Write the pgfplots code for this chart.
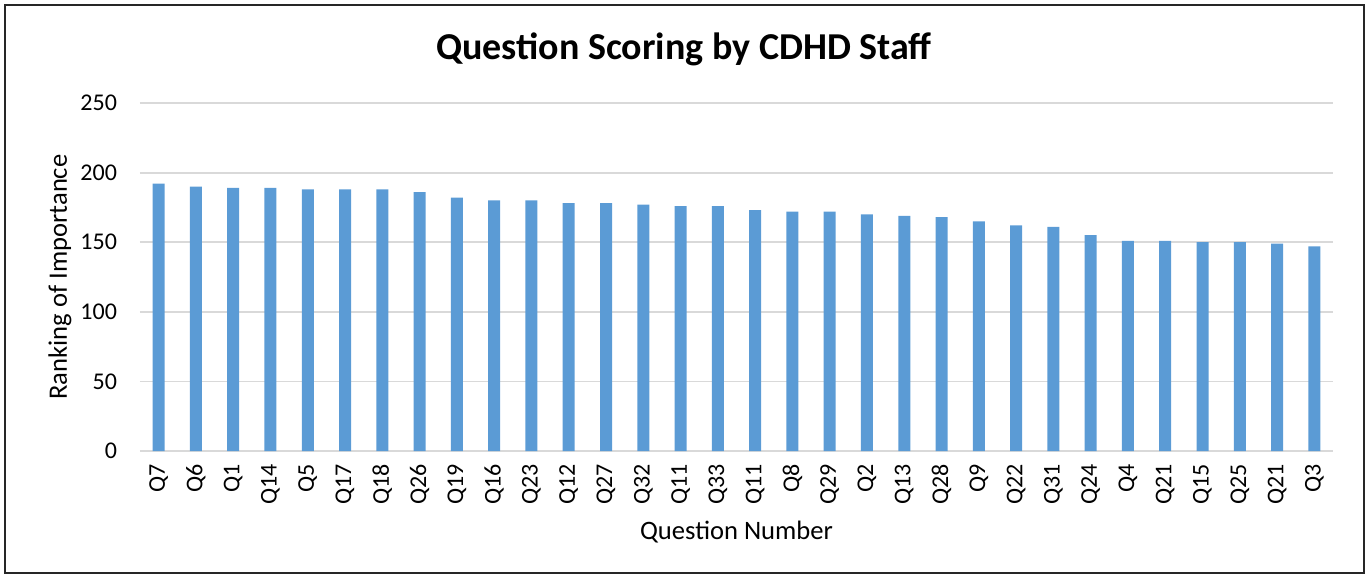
\documentclass[border=0pt]{standalone}
\usepackage{pgfplots}
\pgfplotsset{compat=1.18}
\usepackage{fontspec}
\setmainfont{Carlito}
\definecolor{barblue}{HTML}{5B9BD5}
\definecolor{gridgray}{HTML}{D9D9D9}
\begin{document}
\begin{tikzpicture}
\useasboundingbox (-70pt,-63.5pt) rectangle (614.5pt,225.5pt);
\draw[line width=1pt,black!85] (-67.5pt,-61pt) rectangle (612pt,223pt);
\node[font=\fontsize{19}{22}\selectfont\bfseries] at (272pt,201pt) {Question Scoring by CDHD Staff};
\begin{axis}[
  at={(0,0)}, anchor=south west,
  width=596.5pt, height=174pt, scale only axis,
  xmin=-0.5, xmax=31.5, ymin=0, ymax=250,
  ytick={0,50,...,250},
  xtick={0,...,31},
  xticklabels={Q7,Q6,Q1,Q14,Q5,Q17,Q18,Q26,Q19,Q16,Q23,Q12,Q27,Q32,Q11,Q33,Q11,Q8,Q29,Q2,Q13,Q28,Q9,Q22,Q31,Q24,Q4,Q21,Q15,Q25,Q21,Q3},
  axis line style={draw=none},
  axis x line*=bottom,
  major tick length=0pt,
  ymajorgrids, grid style={gridgray, line width=0.9pt},
  tick label style={font=\fontsize{12}{14}\selectfont},
  /pgf/number format/assume math mode=true,
  xticklabel style={rotate=90, anchor=east},
  xticklabel shift=3pt,
  yticklabel style={xshift=-8pt},
  every axis x label/.style={at={(axis description cs:0.5,0)}, yshift=-40.5pt, anchor=center},
  every axis y label/.style={at={(axis description cs:0,0.5)}, xshift=-40pt, rotate=90, anchor=center},
  label style={font=\fontsize{13.3}{15}\selectfont},
  xlabel={Question Number},
  ylabel={Ranking of Importance},
  clip=false,
]
\draw[gridgray, line width=0.9pt] (axis cs:-0.5,0) -- (axis cs:31.5,0);
\addplot[ybar, bar width=6pt, fill=barblue, draw=none] coordinates {
(0,192) (1,190) (2,189) (3,189) (4,188) (5,188) (6,188) (7,186)
(8,182) (9,180) (10,180) (11,178) (12,178) (13,177) (14,176) (15,176)
(16,173) (17,172) (18,172) (19,170) (20,169) (21,168) (22,165) (23,162)
(24,161) (25,155) (26,151) (27,151) (28,150) (29,150) (30,149) (31,147)
};
\end{axis}
\end{tikzpicture}
\end{document}
